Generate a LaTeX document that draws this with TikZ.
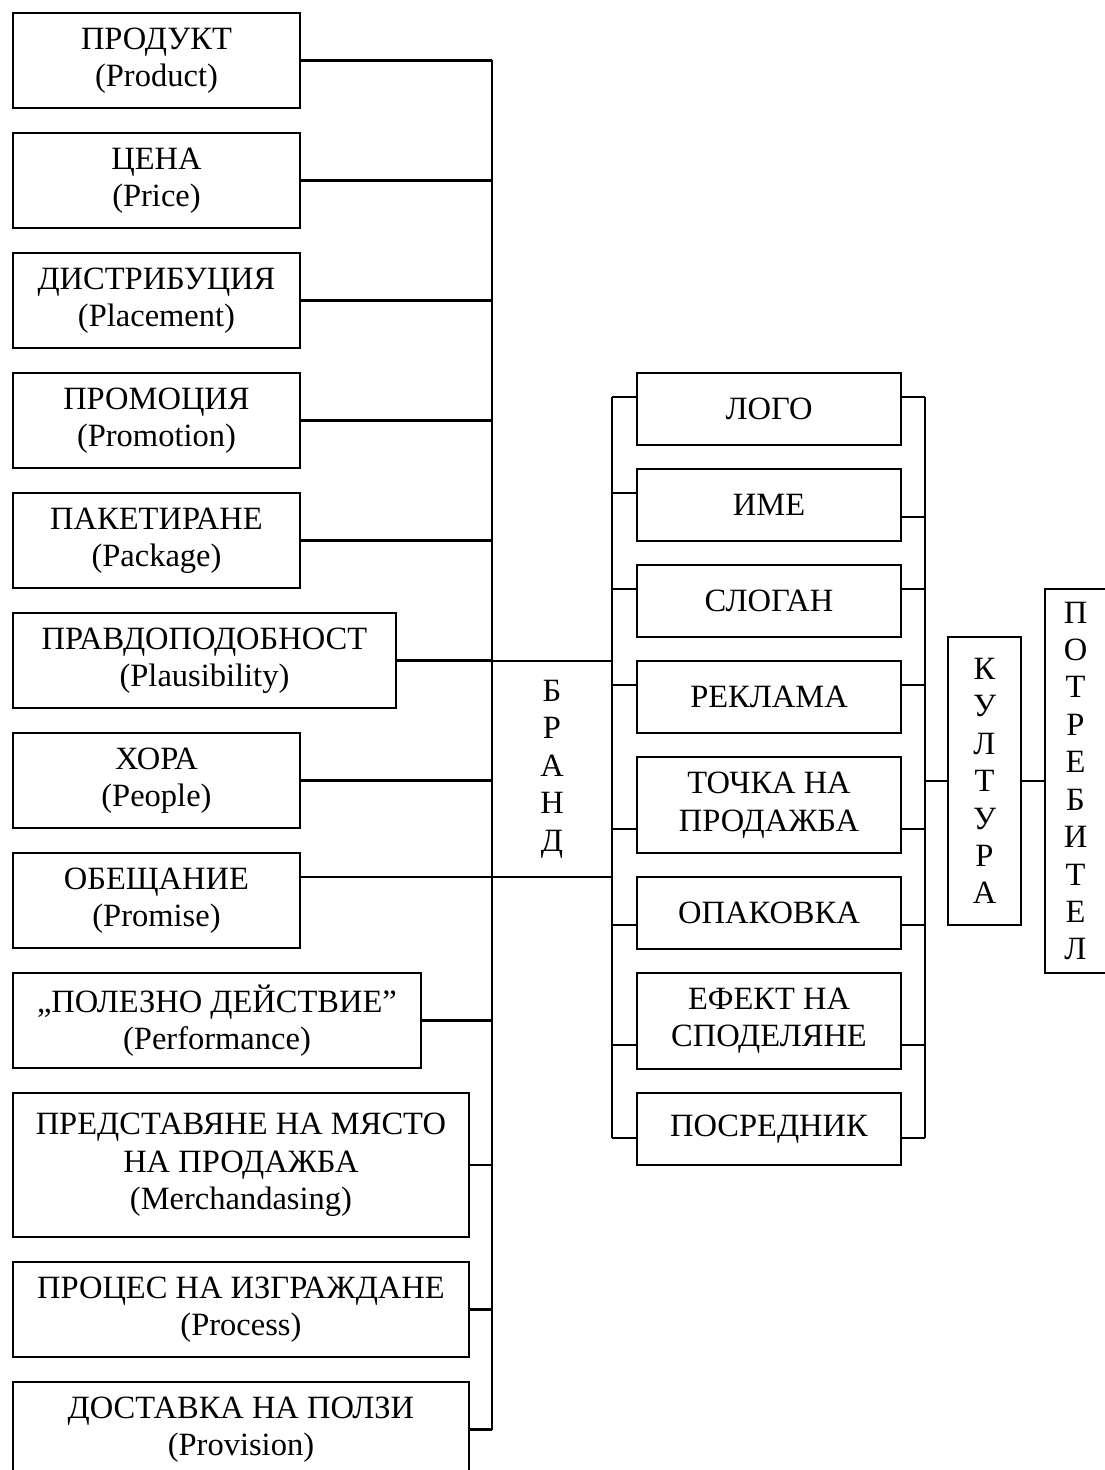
\documentclass[tikz,border=0pt]{standalone}
\usepackage{fontspec}
\setmainfont{Liberation Serif}
\usetikzlibrary{calc,positioning}
\tikzset{
box/.style={draw,line width=1.3pt,align=center,inner sep=0pt,outer sep=0pt,font=\fontsize{18.5}{21.3}\selectfont},
lbox/.style={box,anchor=west,minimum height=1.9cm},
rbox/.style={box,minimum width=5.28cm},
conn/.style={line width=1.3pt}
}

\begin{document}
\begin{tikzpicture}[x=0.02cm,y=-0.02cm]
\useasboundingbox (0,0) rectangle (1105,1470);
\clip (0,0) rectangle (1105,1470);
\foreach \n/\y/\w/\t in {prod/60.5/5.74/{ПРОДУКТ\\(Product)},price/180.5/5.74/{ЦЕНА\\(Price)},
place/300.5/5.74/{ДИСТРИБУЦИЯ\\(Placement)},promo/420.5/5.74/{ПРОМОЦИЯ\\(Promotion)},
pack/540.5/5.74/{ПАКЕТИРАНЕ\\(Package)},plaus/660.5/7.66/{ПРАВДОПОДОБНОСТ\\(Plausibility)},
people/780.5/5.74/{ХОРА\\(People)},promise/900.5/5.74/{ОБЕЩАНИЕ\\(Promise)},
perf/1020.5/8.16/{„ПОЛЕЗНО ДЕЙСТВИЕ”\\(Performance)},process/1309.5/9.12/{ПРОЦЕС НА ИЗГРАЖДАНЕ\\(Process)},
prov/1429.5/9.12/{ДОСТАВКА НА ПОЛЗИ\\(Provision)}}{
\node[lbox,minimum width=\w cm] (\n) at (13,\y) {\t};
}
\node[lbox,minimum width=9.12cm,minimum height=2.88cm] (merch) at (13,1165) {ПРЕДСТАВЯНЕ НА МЯСТО\\НА ПРОДАЖБА\\(Merchandasing)};

\node[box,minimum width=2.4cm,minimum height=4.32cm] (brand) at (552,769) {Б\\Р\\А\\Н\\Д};

\foreach \n/\y/\h/\t in {logo/409/1.44/ЛОГО,name/505/1.44/ИМЕ,slogan/601/1.44/СЛОГАН,ad/697/1.44/РЕКЛАМА,
pos/805/1.92/{ТОЧКА НА\\ПРОДАЖБА},pack2/913/1.44/ОПАКОВКА,share/1021/1.92/{ЕФЕКТ НА\\СПОДЕЛЯНЕ},agent/1129/1.44/ПОСРЕДНИК}{
\node[rbox,minimum height=\h cm] (\n) at (769,\y) {\t};
}

\node[box,minimum width=1.46cm,minimum height=5.76cm] (culture) at (984.5,781) {К\\У\\Л\\Т\\У\\Р\\А};
\node[box,minimum width=1.22cm,minimum height=7.68cm] (consumer) at (1075.5,781) {П\\О\\Т\\Р\\Е\\Б\\И\\Т\\Е\\Л};

\foreach \n in {prod,price,place,promo,pack,plaus,people,perf,merch,process,prov}{
\draw[conn] (\n.east) -- (\n.east -| brand.west);
}
\draw[conn] (promise.east |- brand.south) -- (brand.south west);
\draw[conn] (prod.east -| brand.west) -- (prov.east -| brand.west);

\coordinate (busR) at ($(logo.east)+(24,0)$);
\foreach \n/\a/\b in {logo/24/24,name/24/48,slogan/24/24,ad/24/24,pos/72/72,pack2/48/48,share/72/72,agent/45/45}{
\coordinate (\n-l) at ($(\n.north west)+(0,\a)$);
\coordinate (\n-r) at ($(\n.north east)+(0,\b)$);
\draw[conn] (\n-l) -- (\n-l -| brand.east);
\draw[conn] (\n-r) -- (\n-r -| busR);
}
\draw[conn] (logo-l -| brand.east) -- (agent-l -| brand.east);
\draw[conn] (logo-r -| busR) -- (agent-r -| busR);
\draw[conn] (culture.west -| busR) -- (culture.west);
\draw[conn] (culture.east) -- (consumer.west);
\end{tikzpicture}
\end{document}
